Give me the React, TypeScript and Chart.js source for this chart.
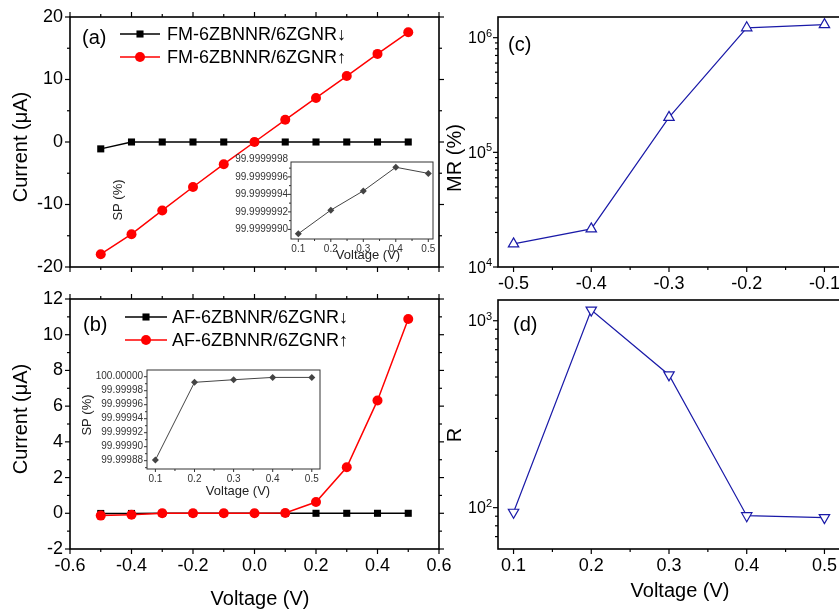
import React, { useEffect, useRef } from 'react';
import { Chart, registerables } from 'chart.js';
Chart.register(...registerables);

const W = 860;
const H = 611;
const FONT = "'Liberation Sans', Arial, Helvetica, sans-serif";
Chart.defaults.font.family = FONT;

// ---------- data ----------
const ivVoltage = [-0.5, -0.4, -0.3, -0.2, -0.1, 0, 0.1, 0.2, 0.3, 0.4, 0.5];
const fmDown = [-1.1, 0, 0, 0, 0, 0, 0, 0, 0, 0, 0];
const fmUp = [-17.95, -14.75, -10.95, -7.2, -3.55, 0, 3.55, 7.05, 10.55, 14.1, 17.55];
const afDown = [-0.01, -0.01, 0, 0, 0, 0, 0, 0, 0, 0, 0];
const afUp = [-0.13, -0.08, 0, 0, 0, 0, 0.02, 0.63, 2.58, 6.32, 10.88];

const spVoltage = [0.1, 0.2, 0.3, 0.4, 0.5];
const spFM = [99.99999895, 99.99999922, 99.99999944, 99.99999971, 99.99999964];
const spAF = [99.999881, 99.999992, 99.9999957, 99.999999, 99.999999];

const mrVoltage = [-0.5, -0.4, -0.3, -0.2, -0.1];
const mrValues = [15900, 21500, 202000, 1220000, 1300000];
const rVoltage = [0.1, 0.2, 0.3, 0.4, 0.5];
const rValues = [94.5, 1140, 513, 90.6, 88.4];

// ---------- ticks ----------
const ivXTicks = [-0.6, -0.4, -0.2, 0, 0.2, 0.4, 0.6];
const ivXMinor = [-0.5, -0.3, -0.1, 0.1, 0.3, 0.5];
const fmYTicks = [-20, -10, 0, 10, 20];
const fmYMinor = [-15, -5, 5, 15];
const afYTicks = [-2, 0, 2, 4, 6, 8, 10, 12];
const afYMinor = [-1, 1, 3, 5, 7, 9, 11];
const mrXTicks = [-0.5, -0.4, -0.3, -0.2, -0.1];
const mrXMinor = [-0.45, -0.35, -0.25, -0.15];
const rXTicks = [0.1, 0.2, 0.3, 0.4, 0.5];
const rXMinor = [0.15, 0.25, 0.35, 0.45];
const mrYTicks = [1e4, 1e5, 1e6];
const rYTicks = [1e2, 1e3];
const spXTicks = [0.1, 0.2, 0.3, 0.4, 0.5];
const spXMinor = [0.15, 0.25, 0.35, 0.45];
const spFMTicks = [99.999999, 99.9999992, 99.9999994, 99.9999996, 99.9999998];
const spFMMinor = [99.9999991, 99.9999993, 99.9999995, 99.9999997];
const spAFTicks = [99.99988, 99.9999, 99.99992, 99.99994, 99.99996, 99.99998, 100.0];
const spAFMinor = [99.99987, 99.99989, 99.99991, 99.99993, 99.99995, 99.99997, 99.99999];

function logMinor(lo: number, hi: number): number[] {
  const out: number[] = [];
  for (let e = Math.floor(Math.log10(lo)); e <= Math.ceil(Math.log10(hi)); e++) {
    for (let k = 2; k <= 9; k++) {
      const v = k * Math.pow(10, e);
      if (v > lo && v < hi) out.push(v);
    }
  }
  return out;
}

type Txt = { text: string; x: number; y: number; size: number; rot?: boolean; align?: CanvasTextAlign; color?: string };
type Decor = {
  xMajor: number[]; xMinor: number[]; yMajor: number[]; yMinor: number[];
  majorLen: number; minorLen: number; mirror: boolean;
  color: string; frameWidth: number; tickWidth: number;
  texts: Txt[];
  legend?: { x0: number; x1: number; tx: number; ys: number[]; size: number };
  logLabels?: { size: number; sup: number; gap: number };
};

function decor(d: Decor) {
  return {
    id: 'decor',
    afterDraw(chart: any) {
      const ctx: CanvasRenderingContext2D = chart.ctx;
      const a = chart.chartArea;
      const sx = chart.scales.x;
      const sy = chart.scales.y;
      ctx.save();
      ctx.strokeStyle = d.color;
      ctx.lineWidth = d.tickWidth;
      const seg = (x1: number, y1: number, x2: number, y2: number) => {
        ctx.beginPath(); ctx.moveTo(x1, y1); ctx.lineTo(x2, y2); ctx.stroke();
      };
      const xt = (vals: number[], len: number) => vals.forEach((v) => {
        const p = sx.getPixelForValue(v);
        if (p < a.left - 0.5 || p > a.right + 0.5) return;
        seg(p, a.bottom, p, a.bottom + len);
        if (d.mirror) seg(p, a.top, p, a.top - len);
      });
      const yt = (vals: number[], len: number) => vals.forEach((v) => {
        const p = sy.getPixelForValue(v);
        if (p < a.top - 0.5 || p > a.bottom + 0.5) return;
        seg(a.left, p, a.left - len, p);
        if (d.mirror) seg(a.right, p, a.right + len, p);
      });
      xt(d.xMajor, d.majorLen); xt(d.xMinor, d.minorLen);
      yt(d.yMajor, d.majorLen); yt(d.yMinor, d.minorLen);
      ctx.lineWidth = d.frameWidth;
      ctx.strokeRect(a.left, a.top, a.right - a.left, a.bottom - a.top);

      ctx.fillStyle = '#000';
      if (d.logLabels) {
        const L = d.logLabels;
        d.yMajor.forEach((v) => {
          const p = sy.getPixelForValue(v);
          const e = String(Math.round(Math.log10(v)));
          const right = a.left - L.gap;
          ctx.font = `${L.sup}px ${FONT}`;
          const ew = ctx.measureText(e).width;
          ctx.textAlign = 'left';
          ctx.textBaseline = 'alphabetic';
          ctx.fillText(e, right - ew, p - 1);
          ctx.font = `${L.size}px ${FONT}`;
          ctx.textAlign = 'right';
          ctx.fillText('10', right - ew, p + L.size * 0.36);
        });
      }
      d.texts.forEach((t) => {
        ctx.save();
        ctx.fillStyle = t.color || '#000';
        ctx.font = `${t.size}px ${FONT}`;
        ctx.textAlign = t.align || 'center';
        ctx.textBaseline = 'middle';
        ctx.translate(t.x, t.y);
        if (t.rot) ctx.rotate(-Math.PI / 2);
        ctx.fillText(t.text, 0, 0);
        ctx.restore();
      });
      if (d.legend) {
        const g = d.legend;
        chart.data.datasets.forEach((ds: any, i: number) => {
          const y = g.ys[i];
          ctx.strokeStyle = ds.borderColor;
          ctx.lineWidth = ds.borderWidth;
          seg(g.x0, y, g.x1, y);
          const cx = (g.x0 + g.x1) / 2;
          ctx.fillStyle = ds.backgroundColor;
          const r = ds.pointRadius;
          if (ds.pointStyle === 'rect') {
            const s = r * Math.SQRT1_2;
            ctx.fillRect(cx - s, y - s, 2 * s, 2 * s);
          } else {
            ctx.beginPath(); ctx.arc(cx, y, r, 0, Math.PI * 2); ctx.fill();
          }
          ctx.fillStyle = '#000';
          ctx.font = `${g.size}px ${FONT}`;
          ctx.textAlign = 'left';
          ctx.textBaseline = 'middle';
          ctx.fillText(ds.label, g.tx, y + 1);
        });
      }
      ctx.restore();
    },
  };
}

type Area = { l: number; t: number; r: number; b: number };
type AxisOpt = {
  type?: 'linear' | 'logarithmic'; min: number; max: number; ticks: number[];
  fmt?: (v: number) => string; show: boolean; size: number; color: string; tl: number; pad: number;
};

const Y_BOX = 66; // width reserved for y-axis labels
const X_BOX = 32; // height reserved for x-axis labels

function scale(o: AxisOpt, horizontal: boolean) {
  return {
    type: o.type || 'linear',
    min: o.min,
    max: o.max,
    afterBuildTicks: (s: any) => { s.ticks = o.ticks.map((v) => ({ value: v })); },
    afterFit: (s: any) => { if (horizontal) s.height = X_BOX; else s.width = Y_BOX; },
    grid: { display: false, drawTicks: true, tickLength: o.tl },
    border: { display: false },
    ticks: {
      display: o.show,
      padding: o.pad,
      autoSkip: false,
      maxRotation: 0,
      minRotation: 0,
      color: o.color,
      font: { family: FONT, size: o.size },
      callback: (v: any) => (o.fmt ? o.fmt(Number(v)) : String(v)),
    },
  };
}

function makeConfig(datasets: any[], area: Area, x: AxisOpt, y: AxisOpt, d: Decor) {
  return {
    type: 'line',
    data: { datasets },
    options: {
      animation: false,
      responsive: false,
      maintainAspectRatio: false,
      layout: { padding: { left: area.l - Y_BOX, top: area.t, right: W - area.r, bottom: H - area.b - X_BOX } },
      plugins: { legend: { display: false }, tooltip: { enabled: false } },
      scales: { x: scale(x, true), y: scale(y, false) },
    },
    plugins: [decor(d)],
  };
}

const pts = (xs: number[], ys: number[]) => xs.map((x, i) => ({ x, y: ys[i] }));
const f1 = (v: number) => v.toFixed(1);
const fInt = (v: number) => String(Math.round(v));

const lineBase = { tension: 0, clip: false, pointHoverRadius: 0 };

// ---------- panel (a) ----------
const cfgA = makeConfig(
  [
    { ...lineBase, label: 'FM-6ZBNNR/6ZGNR↓', data: pts(ivVoltage, fmDown), borderColor: '#000', backgroundColor: '#000', borderWidth: 1.5, pointStyle: 'rect', pointRadius: 5, pointBorderWidth: 0, order: 1 },
    { ...lineBase, label: 'FM-6ZBNNR/6ZGNR↑', data: pts(ivVoltage, fmUp), borderColor: '#ff0000', backgroundColor: '#ff0000', borderWidth: 1.5, pointStyle: 'circle', pointRadius: 5, pointBorderWidth: 0, order: 0 },
  ],
  { l: 70, t: 17, r: 439, b: 267 },
  { min: -0.6, max: 0.6, ticks: ivXTicks, show: false, size: 18, color: '#000', tl: 5, pad: 1, fmt: f1 },
  { min: -20, max: 20, ticks: fmYTicks, show: true, size: 18, color: '#000', tl: 5, pad: 2, fmt: fInt },
  {
    xMajor: ivXTicks, xMinor: ivXMinor, yMajor: fmYTicks, yMinor: fmYMinor,
    majorLen: 5, minorLen: 3, mirror: true, color: '#000', frameWidth: 1.6, tickWidth: 1.2,
    texts: [
      { text: 'Current (μA)', x: 21, y: 147, size: 20, rot: true },
      { text: '(a)', x: 82, y: 38, size: 20, align: 'left' },
    ],
    legend: { x0: 120, x1: 160, tx: 167, ys: [34, 57], size: 18 },
  }
);

// ---------- panel (b) ----------
const cfgB = makeConfig(
  [
    { ...lineBase, label: 'AF-6ZBNNR/6ZGNR↓', data: pts(ivVoltage, afDown), borderColor: '#000', backgroundColor: '#000', borderWidth: 1.5, pointStyle: 'rect', pointRadius: 5, pointBorderWidth: 0, order: 1 },
    { ...lineBase, label: 'AF-6ZBNNR/6ZGNR↑', data: pts(ivVoltage, afUp), borderColor: '#ff0000', backgroundColor: '#ff0000', borderWidth: 1.5, pointStyle: 'circle', pointRadius: 5, pointBorderWidth: 0, order: 0 },
  ],
  { l: 70, t: 299, r: 439, b: 549 },
  { min: -0.6, max: 0.6, ticks: ivXTicks, show: true, size: 18, color: '#000', tl: 5, pad: 1, fmt: f1 },
  { min: -2, max: 12, ticks: afYTicks, show: true, size: 18, color: '#000', tl: 5, pad: 2, fmt: fInt },
  {
    xMajor: ivXTicks, xMinor: ivXMinor, yMajor: afYTicks, yMinor: afYMinor,
    majorLen: 5, minorLen: 3, mirror: true, color: '#000', frameWidth: 1.6, tickWidth: 1.2,
    texts: [
      { text: 'Current (μA)', x: 21, y: 419, size: 20, rot: true },
      { text: '(b)', x: 83, y: 325, size: 20, align: 'left' },
      { text: 'Voltage (V)', x: 260, y: 599, size: 20 },
    ],
    legend: { x0: 125, x1: 167, tx: 172, ys: [317, 340], size: 18 },
  }
);

// ---------- panel (c) ----------
const blue = '#1a1aa8';
const cfgC = makeConfig(
  [
    { ...lineBase, label: 'MR', data: pts(mrVoltage, mrValues), borderColor: blue, backgroundColor: '#fff', borderWidth: 1.2, pointStyle: 'triangle', pointRadius: 6, pointBorderColor: blue, pointBackgroundColor: '#fff', pointBorderWidth: 1.2 },
  ],
  { l: 498, t: 17, r: 840, b: 267 },
  { min: -0.52, max: -0.08, ticks: mrXTicks, show: true, size: 18, color: '#000', tl: 5, pad: 1, fmt: f1 },
  { type: 'logarithmic', min: 1e4, max: 1.515e6, ticks: mrYTicks, show: false, size: 16, color: '#000', tl: 5, pad: 2 },
  {
    xMajor: mrXTicks, xMinor: mrXMinor, yMajor: mrYTicks, yMinor: logMinor(1e4, 1.515e6),
    majorLen: 5, minorLen: 3, mirror: false, color: '#000', frameWidth: 1.6, tickWidth: 1.2,
    texts: [
      { text: 'MR (%)', x: 455, y: 158, size: 20, rot: true },
      { text: '(c)', x: 508, y: 45, size: 20, align: 'left' },
    ],
    logLabels: { size: 16, sup: 11, gap: 6 },
  }
);

// ---------- panel (d) ----------
const cfgD = makeConfig(
  [
    { ...lineBase, label: 'R', data: pts(rVoltage, rValues), borderColor: blue, backgroundColor: '#fff', borderWidth: 1.2, pointStyle: 'triangle', pointRotation: 180, pointRadius: 6, pointBorderColor: blue, pointBackgroundColor: '#fff', pointBorderWidth: 1.2 },
  ],
  { l: 498, t: 300, r: 840, b: 549 },
  { min: 0.08, max: 0.52, ticks: rXTicks, show: true, size: 18, color: '#000', tl: 5, pad: 1, fmt: f1 },
  { type: 'logarithmic', min: 60.1, max: 1291, ticks: rYTicks, show: false, size: 16, color: '#000', tl: 5, pad: 2 },
  {
    xMajor: rXTicks, xMinor: rXMinor, yMajor: rYTicks, yMinor: logMinor(60.1, 1291),
    majorLen: 5, minorLen: 3, mirror: false, color: '#000', frameWidth: 1.6, tickWidth: 1.2,
    texts: [
      { text: 'R', x: 455, y: 435, size: 20, rot: true },
      { text: '(d)', x: 513, y: 325, size: 20, align: 'left' },
      { text: 'Voltage (V)', x: 680, y: 591, size: 20 },
    ],
    logLabels: { size: 16, sup: 11, gap: 6 },
  }
);

// ---------- inset of (a) ----------
const gray = '#444';
const cfgIA = makeConfig(
  [
    { ...lineBase, label: 'SP', data: pts(spVoltage, spFM), borderColor: gray, backgroundColor: gray, borderWidth: 1, pointStyle: 'rectRot', pointRadius: 3.5, pointBorderWidth: 0 },
  ],
  { l: 291, t: 162, r: 433, b: 239 },
  { min: 0.0775, max: 0.5145, ticks: spXTicks, show: true, size: 10, color: '#333', tl: 2, pad: 2, fmt: f1 },
  { min: 99.99999889, max: 99.99999977, ticks: spFMTicks, show: true, size: 10, color: '#333', tl: 2, pad: 1, fmt: (v) => v.toFixed(7) },
  {
    xMajor: spXTicks, xMinor: spXMinor, yMajor: spFMTicks, yMinor: spFMMinor,
    majorLen: 3, minorLen: 2, mirror: false, color: '#333', frameWidth: 1, tickWidth: 1,
    texts: [
      { text: 'Voltage (V)', x: 368, y: 255, size: 13, color: '#222' },
      { text: 'SP (%)', x: 118, y: 200, size: 13, rot: true, color: '#222' },
    ],
  }
);

// ---------- inset of (b) ----------
const cfgIB = makeConfig(
  [
    { ...lineBase, label: 'SP', data: pts(spVoltage, spAF), borderColor: gray, backgroundColor: gray, borderWidth: 1, pointStyle: 'rectRot', pointRadius: 3.5, pointBorderWidth: 0 },
  ],
  { l: 147, t: 370, r: 320, b: 469 },
  { min: 0.0785, max: 0.521, ticks: spXTicks, show: true, size: 10, color: '#333', tl: 2, pad: 2, fmt: f1 },
  { min: 99.9998681, max: 100.0000096, ticks: spAFTicks, show: true, size: 10, color: '#333', tl: 2, pad: 2, fmt: (v) => v.toFixed(5) },
  {
    xMajor: spXTicks, xMinor: spXMinor, yMajor: spAFTicks, yMinor: spAFMinor,
    majorLen: 3, minorLen: 2, mirror: false, color: '#333', frameWidth: 1, tickWidth: 1,
    texts: [
      { text: 'Voltage (V)', x: 238, y: 491, size: 13, color: '#222' },
      { text: 'SP (%)', x: 87, y: 415, size: 13, rot: true, color: '#222' },
    ],
  }
);

function Layer({ config }: { config: any }) {
  const ref = useRef<HTMLCanvasElement>(null);
  useEffect(() => {
    if (!ref.current) return;
    const c = new Chart(ref.current, config);
    return () => c.destroy();
  }, [config]);
  return (
    <canvas
      ref={ref}
      width={W}
      height={H}
      style={{ position: 'absolute', left: 0, top: 0, width: W, height: H }}
    />
  );
}

export default function App() {
  return (
    <div
      style={{
        position: 'fixed', left: 0, top: 0, width: 839, height: 611,
        overflow: 'hidden', background: '#fff',
      }}
    >
      <Layer config={cfgA} />
      <Layer config={cfgB} />
      <Layer config={cfgC} />
      <Layer config={cfgD} />
      <Layer config={cfgIA} />
      <Layer config={cfgIB} />
    </div>
  );
}
